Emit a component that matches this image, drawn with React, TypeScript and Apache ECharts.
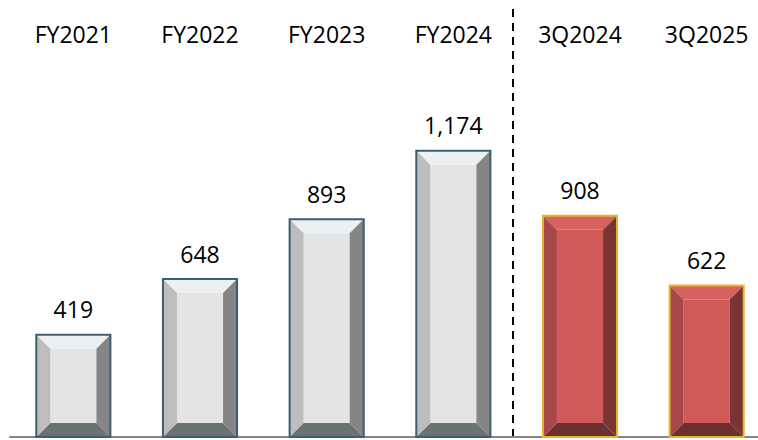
import React, { useEffect, useRef } from "react";
import * as echarts from "echarts";

const categories = ["FY2021", "FY2022", "FY2023", "FY2024", "3Q2024", "3Q2025"];
const values = [419, 648, 893, 1174, 908, 622];
const palettes = ["gray", "gray", "gray", "gray", "red", "red"];

const FONT = "'Open Sans', sans-serif";

const colorSets: Record<string, any> = {
  gray: {
    front: "#e4e4e4",
    top: "#edf0f2",
    left: "#bdbdbd",
    right: "#858585",
    bottom: "#6c7173",
    border: "#3a5f6d",
  },
  red: {
    front: "#cf5a57",
    top: "#d8625f",
    left: "#a8474a",
    right: "#7a3434",
    bottom: "#6b302f",
    border: "#e7b526",
  },
};

export default function App() {
  const ref = useRef<HTMLDivElement>(null);
  useEffect(() => {
    document.body.style.margin = "0";
    document.body.style.overflow = "hidden";
    const chart = echarts.init(ref.current!, null, { renderer: "svg" });
    const data = values.map((v, i) => [i, v]);
    chart.setOption({
      animation: false,
      grid: { left: 10, right: 0, top: 47, bottom: 3, containLabel: false },
      xAxis: [
        {
          type: "category",
          data: categories,
          position: "bottom",
          axisLine: { show: true, lineStyle: { color: "#868686", width: 2 } },
          axisTick: { show: false },
          axisLabel: { show: false },
        },
        {
          type: "category",
          data: categories,
          position: "top",
          axisLine: { show: false },
          axisTick: { show: false },
          axisLabel: {
            show: true,
            color: "#000",
            fontFamily: FONT,
            fontSize: 23,
            margin: 13,
            verticalAlign: "middle",
          },
        },
      ],
      yAxis: {
        type: "value",
        min: 0,
        max: 1600,
        show: false,
        splitLine: { show: false },
      },
      series: [
        {
          type: "custom",
          xAxisIndex: 0,
          data,
          renderItem: (params: any, api: any) => {
            const idx = api.value(0);
            const val = api.value(1);
            const topPt = api.coord([idx, val]);
            const botPt = api.coord([idx, 0]);
            const band = api.size([1, 0])[0];
            const w = band * 0.585;
            const x = topPt[0] - w / 2;
            const y = topPt[1];
            const h = botPt[1] - topPt[1];
            const b = 14;
            const c = colorSets[palettes[params.dataIndex]];
            return {
              type: "group",
              children: [
                { type: "rect", shape: { x: x + b, y: y + b, width: w - 2 * b, height: h - 2 * b }, style: { fill: c.front } },
                { type: "polygon", shape: { points: [[x, y], [x + w, y], [x + w - b, y + b], [x + b, y + b]] }, style: { fill: c.top } },
                { type: "polygon", shape: { points: [[x, y + h], [x + w, y + h], [x + w - b, y + h - b], [x + b, y + h - b]] }, style: { fill: c.bottom } },
                { type: "polygon", shape: { points: [[x, y], [x + b, y + b], [x + b, y + h - b], [x, y + h]] }, style: { fill: c.left } },
                { type: "polygon", shape: { points: [[x + w, y], [x + w - b, y + b], [x + w - b, y + h - b], [x + w, y + h]] }, style: { fill: c.right } },
                { type: "rect", shape: { x, y, width: w, height: h }, style: { fill: "none", stroke: c.border, lineWidth: 2 } },
              ],
            };
          },
          z: 3,
        },
        {
          type: "bar",
          xAxisIndex: 0,
          data: values,
          barWidth: "58.5%",
          itemStyle: { color: "rgba(0,0,0,0)" },
          label: {
            show: true,
            position: "top",
            distance: 14,
            color: "#000",
            fontFamily: FONT,
            fontSize: 23,
            formatter: (p: any) => Number(p.value).toLocaleString("en-US"),
          },
          z: 4,
        },
      ],
      graphic: [
        {
          type: "line",
          shape: { x1: 513, y1: 9, x2: 513, y2: 436 },
          style: { stroke: "#000", lineWidth: 2, lineDash: [8, 6] },
          z: 10,
        },
      ],
    });
    return () => chart.dispose();
  }, []);
  return (
    <div
      ref={ref}
      style={{ position: "fixed", left: 0, top: 0, width: 770, height: 440, background: "#fff" }}
    />
  );
}
